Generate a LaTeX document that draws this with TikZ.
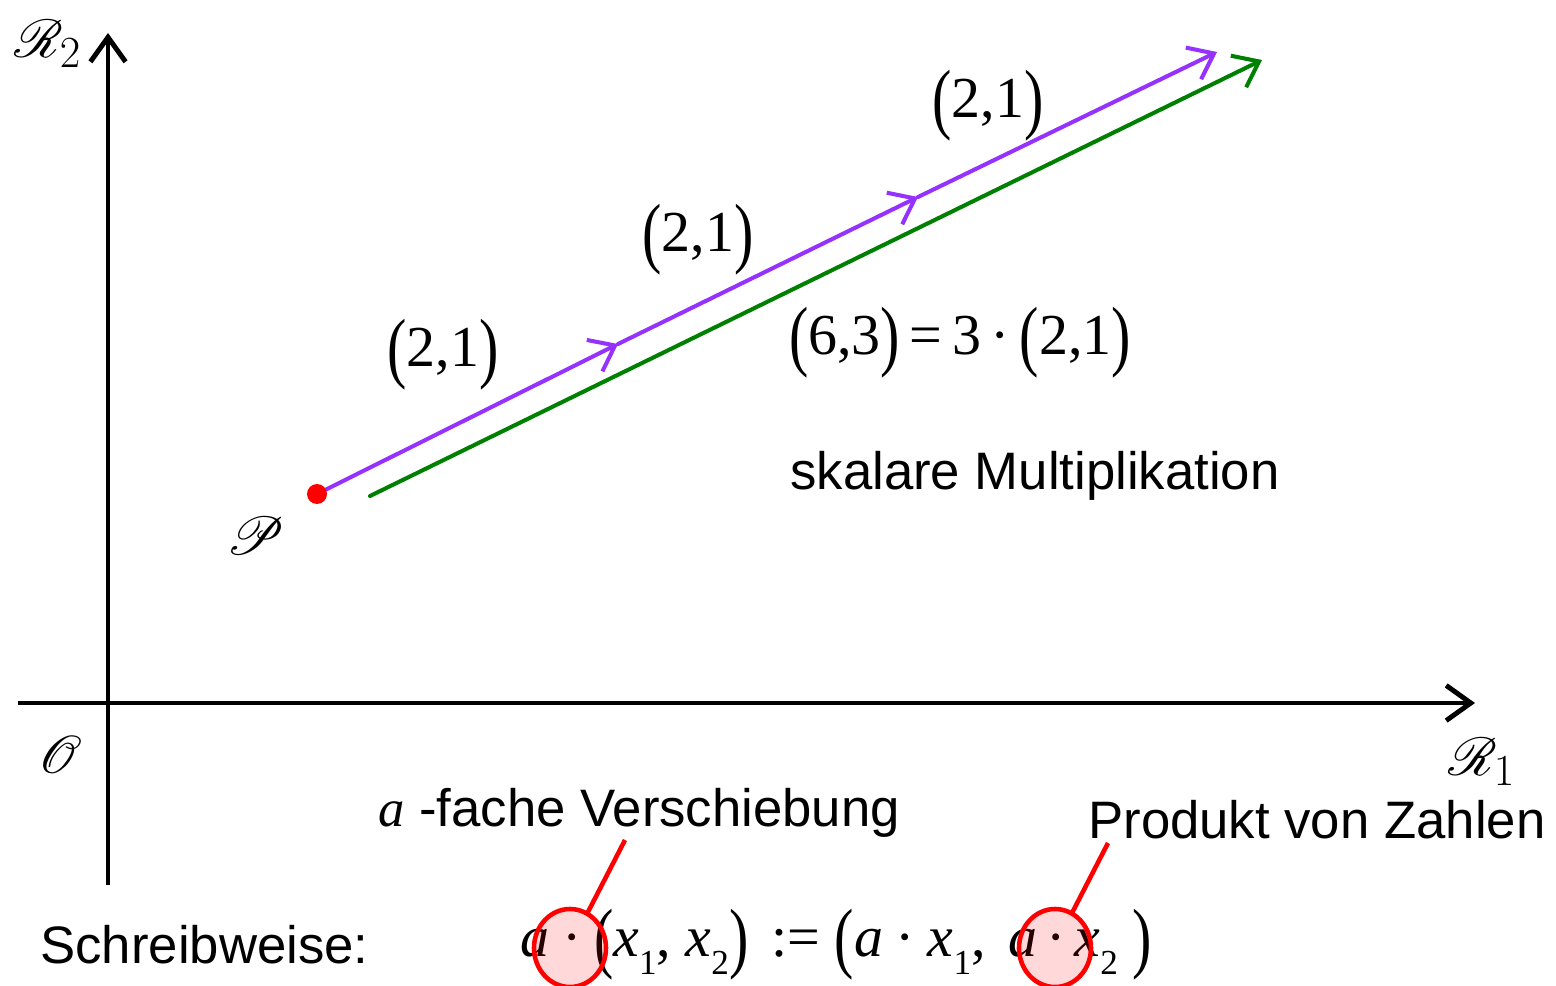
\documentclass[tikz,border=0pt]{standalone}
\usepackage{graphicx}
\usepackage{fontspec}
\setmainfont{Liberation Sans}
\newfontfamily\serif{Liberation Serif}
\usepackage{mathrsfs}
\usetikzlibrary{arrows.meta}
\definecolor{vio}{RGB}{150,50,255}
\definecolor{grn}{RGB}{0,128,0}
\newcommand{\bpl}{\raisebox{-0.12em}{\scalebox{1}[1.35]{(}}}
\newcommand{\bpr}{\raisebox{-0.12em}{\scalebox{1}[1.35]{)}}}
\newcommand{\ttt}[1]{\textit{#1}}
\newcommand{\sbs}[1]{\raisebox{-0.3em}{\fontsize{20}{24}\selectfont #1}}
\newcommand{\cd}{\hspace{0.22em}·\hspace{0.22em}}
\newcommand{\cdn}{\hspace{0.15em}·\hspace{0.15em}}
\newcommand{\scrl}[1]{\scalebox{1.22}{#1}}
\tikzset{
  axis/.style={line width=2.8pt,-{Straight Barb[length=14pt,width=20pt,line width=2.8pt]}},
  vec/.style={line width=2.3pt,draw=vio,-{Straight Barb[length=13pt,width=20pt,line width=2.3pt]},line cap=round},
  gvec/.style={line width=2.3pt,draw=grn,-{Straight Barb[length=13pt,width=20pt,line width=2.3pt]},line cap=round},
  lab/.style={inner sep=0pt,font=\fontsize{30}{36}\selectfont},
  slab/.style={inner sep=0pt,font=\serif\fontsize{33}{40}\selectfont},
  scr/.style={inner sep=0pt,font=\fontsize{30}{36}\selectfont},
  redmark/.style={draw=red,line width=2.6pt,fill=red,fill opacity=0.15},
  ptr/.style={draw=red,line width=2.6pt}
}
\begin{document}
\begin{tikzpicture}[x=0.02cm,y=-0.02cm]
\useasboundingbox (0,0) rectangle (1556,986);
% axes
\coordinate (yb) at (108,885);
\coordinate (yt) at (108,33);
\coordinate (xl) at (18,703);
\coordinate (xr) at (1475,703);
\draw[axis] (yb) -- (yt);
\draw[axis] (xl) -- (xr);
\node[scr] (r2) at (48,44) {\scrl{$\mathscr{R}_2$}};
\node[scr] (o) at (60,755) {\scrl{$\mathscr{O}$}};
\node[scr] (r1) at (1482,762) {\scrl{$\mathscr{R}_1$}};
\node[scr] (p) at (256,536) {\scrl{$\mathscr{P}$}};
% vectors
\coordinate (P) at (317,494);
\coordinate (A1) at (618,344);
\coordinate (A2) at (918,197);
\coordinate (A3) at (1217,52);
\coordinate (G0) at (370,496);
\coordinate (G1) at (1262,60);
\draw[gvec] (G0) -- (G1);
\draw[vec] (P) -- (A1);
\draw[vec] (A1) -- (A2);
\draw[vec] (A2) -- (A3);
\fill[red] (P) circle (10);
\node[slab] (v1) at (443,355) {\bpl2,1\bpr};
\node[slab] (v2) at (698,240) {\bpl2,1\bpr};
\node[slab] (v3) at (988,106) {\bpl2,1\bpr};
\node[slab] (eq) at (960,343) {\bpl6,3\bpr\,=\,3\,·\,\bpl2,1\bpr};
\node[lab] (sk) at (1035,476) {skalare Multiplikation};
% bottom
\node[lab,anchor=west] (vs) at (378,813) {{\serif\itshape a} -fache Verschiebung};
\node[lab,anchor=west] (pz) at (1088,820) {Produkt von Zahlen};
\node[lab,anchor=west] (sw) at (40,945) {Schreibweise:};
\node[slab,anchor=west] (fm) at (520,945) {\ttt{a}\cd\bpl\ttt{x}\sbs{1}, \ttt{x}\sbs{2}\bpr\hspace{0.4em}:=\hspace{0.25em}\bpl\ttt{a}\cd\ttt{x}\sbs{1}, \hspace{0.15em}\ttt{a}\cdn\ttt{x}\sbs{2}\hspace{0.25em}\bpr};
\coordinate (c1) at (570,948);
\coordinate (c2) at (1055,948);
\coordinate (l1a) at (625,840);
\coordinate (l1b) at (588,912);
\coordinate (l2a) at (1108,843);
\coordinate (l2b) at (1072,913);
\draw[redmark] (c1) ellipse [x radius=36, y radius=39];
\draw[redmark] (c2) ellipse [x radius=36, y radius=39];
\draw[ptr] (l1a) -- (l1b);
\draw[ptr] (l2a) -- (l2b);
\end{tikzpicture}
\end{document}
